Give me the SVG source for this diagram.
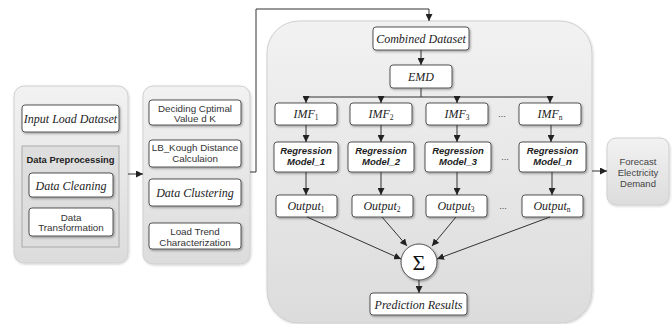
<svg xmlns="http://www.w3.org/2000/svg" width="672" height="324" viewBox="0 0 672 324">
<defs>
<linearGradient id="pg" x1="0" y1="0" x2="0" y2="1"><stop offset="0" stop-color="#f2f2f2"/><stop offset="1" stop-color="#dcdcdc"/></linearGradient>
<filter id="sh" x="-10%" y="-10%" width="130%" height="130%"><feDropShadow dx="1" dy="1.2" stdDeviation="0.9" flood-color="#000" flood-opacity="0.35"/></filter>
<filter id="psh" x="-10%" y="-10%" width="130%" height="130%"><feDropShadow dx="0.8" dy="1" stdDeviation="1.2" flood-color="#000" flood-opacity="0.18"/></filter>
<marker id="ar" viewBox="0 0 10 10" refX="10" refY="5" markerWidth="7" markerHeight="7" markerUnits="userSpaceOnUse" orient="auto"><path d="M0,0 L10,5 L0,10 z" fill="#222"/></marker>
</defs>
<style>
.panel{fill:url(#pg);stroke:#cfcfcf;stroke-width:1;filter:url(#psh)}
.box{fill:#fff;stroke:#555;stroke-width:1;filter:url(#sh)}
.ser{font-family:"Liberation Serif",serif;font-style:italic;font-size:12px;fill:#222;text-anchor:middle}
.san{font-family:"Liberation Sans",Arial,sans-serif;font-size:9.8px;fill:#333;text-anchor:middle}
.bi{font-family:"Liberation Sans",Arial,sans-serif;font-size:9.5px;font-weight:bold;font-style:italic;fill:#222;text-anchor:middle}
.b{font-family:"Liberation Sans",Arial,sans-serif;font-size:9.4px;font-weight:bold;fill:#222;text-anchor:middle}
.sub{font-size:7.5px;font-style:normal}
.ln{fill:none;stroke:#333;stroke-width:1}
.dots{font-family:"Liberation Sans",Arial,sans-serif;font-size:9px;fill:#444;text-anchor:middle}
</style>

<g id="panel1">
<rect class="panel" x="14" y="86" width="114" height="177" rx="10"/>
</g>
<g id="panel2">
<rect class="panel" x="143" y="86" width="107" height="178" rx="10"/>
</g>
<g id="panel3">
<rect class="panel" x="267" y="21" width="325" height="302" rx="32"/>
</g>

<g id="input-load-dataset">
<rect class="box" x="22" y="105" width="97" height="27" rx="3"/>
<text class="ser" x="70.5" y="122.5">Input Load Dataset</text>
</g>
<g id="data-preprocessing">
<rect x="22" y="146" width="97" height="101" fill="#dedede" stroke="#aaa" stroke-width="1"/>
<text class="b" x="70.5" y="162.5">Data Preprocessing</text>
</g>
<g id="data-cleaning">
<rect class="box" x="29" y="173" width="84" height="24" rx="3"/>
<text class="ser" x="71" y="189.5">Data Cleaning</text>
</g>
<g id="data-transformation">
<rect class="box" x="29" y="208" width="84" height="28" rx="3"/>
<text class="san" x="71" y="220.5">Data</text>
<text class="san" x="71" y="231">Transformation</text>
</g>

<g id="deciding">
<rect class="box" x="149" y="100" width="92" height="25" rx="3"/>
<text class="san" x="195" y="111.5">Deciding Cptimal</text>
<text class="san" x="195" y="122">Value d K</text>
</g>
<g id="lb-kough">
<rect class="box" x="149" y="140" width="92" height="27" rx="3"/>
<text class="san" x="195" y="151">LB_Kough Distance</text>
<text class="san" x="195" y="162">Calculaion</text>
</g>
<g id="data-clustering">
<rect class="box" x="149" y="179" width="92" height="27" rx="3"/>
<text class="ser" x="195" y="197">Data Clustering</text>
</g>
<g id="load-trend">
<rect class="box" x="149" y="223" width="92" height="26" rx="3"/>
<text class="san" x="195" y="234.5">Load Trend</text>
<text class="san" x="195" y="246">Characterization</text>
</g>

<g id="combined-dataset">
<rect class="box" x="373" y="27" width="96" height="23" rx="3"/>
<text class="ser" x="421" y="42.5">Combined Dataset</text>
</g>
<g id="emd">
<rect class="box" x="390" y="65" width="62" height="23" rx="3"/>
<text class="ser" x="421" y="81">EMD</text>
</g>

<g id="imf1"><rect class="box" x="275" y="103" width="62" height="22" rx="3"/><text class="ser" x="306" y="118">IMF<tspan class="sub" dy="2">1</tspan></text></g>
<g id="imf2"><rect class="box" x="350" y="103" width="62" height="22" rx="3"/><text class="ser" x="381" y="118">IMF<tspan class="sub" dy="2">2</tspan></text></g>
<g id="imf3"><rect class="box" x="426" y="103" width="62" height="22" rx="3"/><text class="ser" x="457" y="118">IMF<tspan class="sub" dy="2">3</tspan></text></g>
<g id="imfn"><rect class="box" x="519" y="103" width="62" height="22" rx="3"/><text class="ser" x="550" y="118">IMF<tspan class="sub" dy="2">n</tspan></text></g>

<g id="reg1"><rect class="box" x="274" y="142" width="64" height="30" rx="3"/><text class="bi" x="306" y="154">Regression</text><text class="bi" x="306" y="164.5">Model_1</text></g>
<g id="reg2"><rect class="box" x="348" y="142" width="66" height="30" rx="3"/><text class="bi" x="381" y="154">Regression</text><text class="bi" x="381" y="164.5">Model_2</text></g>
<g id="reg3"><rect class="box" x="425" y="142" width="66" height="30" rx="3"/><text class="bi" x="458" y="154">Regression</text><text class="bi" x="458" y="164.5">Model_3</text></g>
<g id="regn"><rect class="box" x="519" y="142" width="67" height="30" rx="3"/><text class="bi" x="552.5" y="154">Regression</text><text class="bi" x="552.5" y="164.5">Model_n</text></g>

<g id="out1"><rect class="box" x="276" y="195" width="61" height="22" rx="3"/><text class="ser" x="306" y="210">Output<tspan class="sub" dy="2">1</tspan></text></g>
<g id="out2"><rect class="box" x="352" y="195" width="61" height="22" rx="3"/><text class="ser" x="382" y="210">Output<tspan class="sub" dy="2">2</tspan></text></g>
<g id="out3"><rect class="box" x="426" y="195" width="61" height="22" rx="3"/><text class="ser" x="456" y="210">Output<tspan class="sub" dy="2">3</tspan></text></g>
<g id="outn"><rect class="box" x="522" y="195" width="61" height="22" rx="3"/><text class="ser" x="552" y="210">Output<tspan class="sub" dy="2">n</tspan></text></g>

<g id="dots">
<text class="dots" x="502" y="117">...</text>
<text class="dots" x="505" y="160">...</text>
<text class="dots" x="503" y="209">...</text>
</g>

<g id="sigma">
<circle cx="419" cy="262" r="18" fill="#fff" stroke="#555" stroke-width="1" filter="url(#sh)"/>
<text x="419" y="269.5" font-family="Liberation Serif,serif" font-size="22" fill="#111" text-anchor="middle">Σ</text>
</g>
<g id="prediction-results">
<rect class="box" x="370" y="293" width="97" height="22" rx="3"/>
<text class="ser" x="418.5" y="308.5">Prediction Results</text>
</g>

<g id="forecast">
<rect class="panel" x="607" y="138" width="62" height="67" rx="9"/>
<text class="san" x="638" y="165" style="fill:#444;font-size:9.5px">Forecast</text>
<text class="san" x="638" y="176" style="fill:#444;font-size:9.5px">Electricity</text>
<text class="san" x="638" y="187" style="fill:#444;font-size:9.5px">Demand</text>
</g>

<g id="connectors">
<path class="ln" d="M128,174 H143" marker-end="url(#ar)"/>
<path class="ln" d="M250,172 H256 V9 H429 V21" marker-end="url(#ar)"/>
<path class="ln" d="M421,50 V65" marker-end="url(#ar)"/>
<path class="ln" d="M421,88 V97 M306,97 H550"/>
<path class="ln" d="M306,97 V103" marker-end="url(#ar)"/>
<path class="ln" d="M381,97 V103" marker-end="url(#ar)"/>
<path class="ln" d="M457,97 V103" marker-end="url(#ar)"/>
<path class="ln" d="M550,97 V103" marker-end="url(#ar)"/>
<path class="ln" d="M306,125 V142" marker-end="url(#ar)"/>
<path class="ln" d="M381,125 V142" marker-end="url(#ar)"/>
<path class="ln" d="M457,125 V142" marker-end="url(#ar)"/>
<path class="ln" d="M551,125 V142" marker-end="url(#ar)"/>
<path class="ln" d="M306,172 V195" marker-end="url(#ar)"/>
<path class="ln" d="M381,172 V195" marker-end="url(#ar)"/>
<path class="ln" d="M457,172 V195" marker-end="url(#ar)"/>
<path class="ln" d="M552,172 V195" marker-end="url(#ar)"/>
<path class="ln" d="M307,217 L401,259" marker-end="url(#ar)"/>
<path class="ln" d="M382,217 L407,246" marker-end="url(#ar)"/>
<path class="ln" d="M456,217 L432,246" marker-end="url(#ar)"/>
<path class="ln" d="M550,217 L437,259" marker-end="url(#ar)"/>
<path class="ln" d="M419,280 V293" marker-end="url(#ar)"/>
<path class="ln" d="M592,171 H607" marker-end="url(#ar)"/>
</g>
</svg>
